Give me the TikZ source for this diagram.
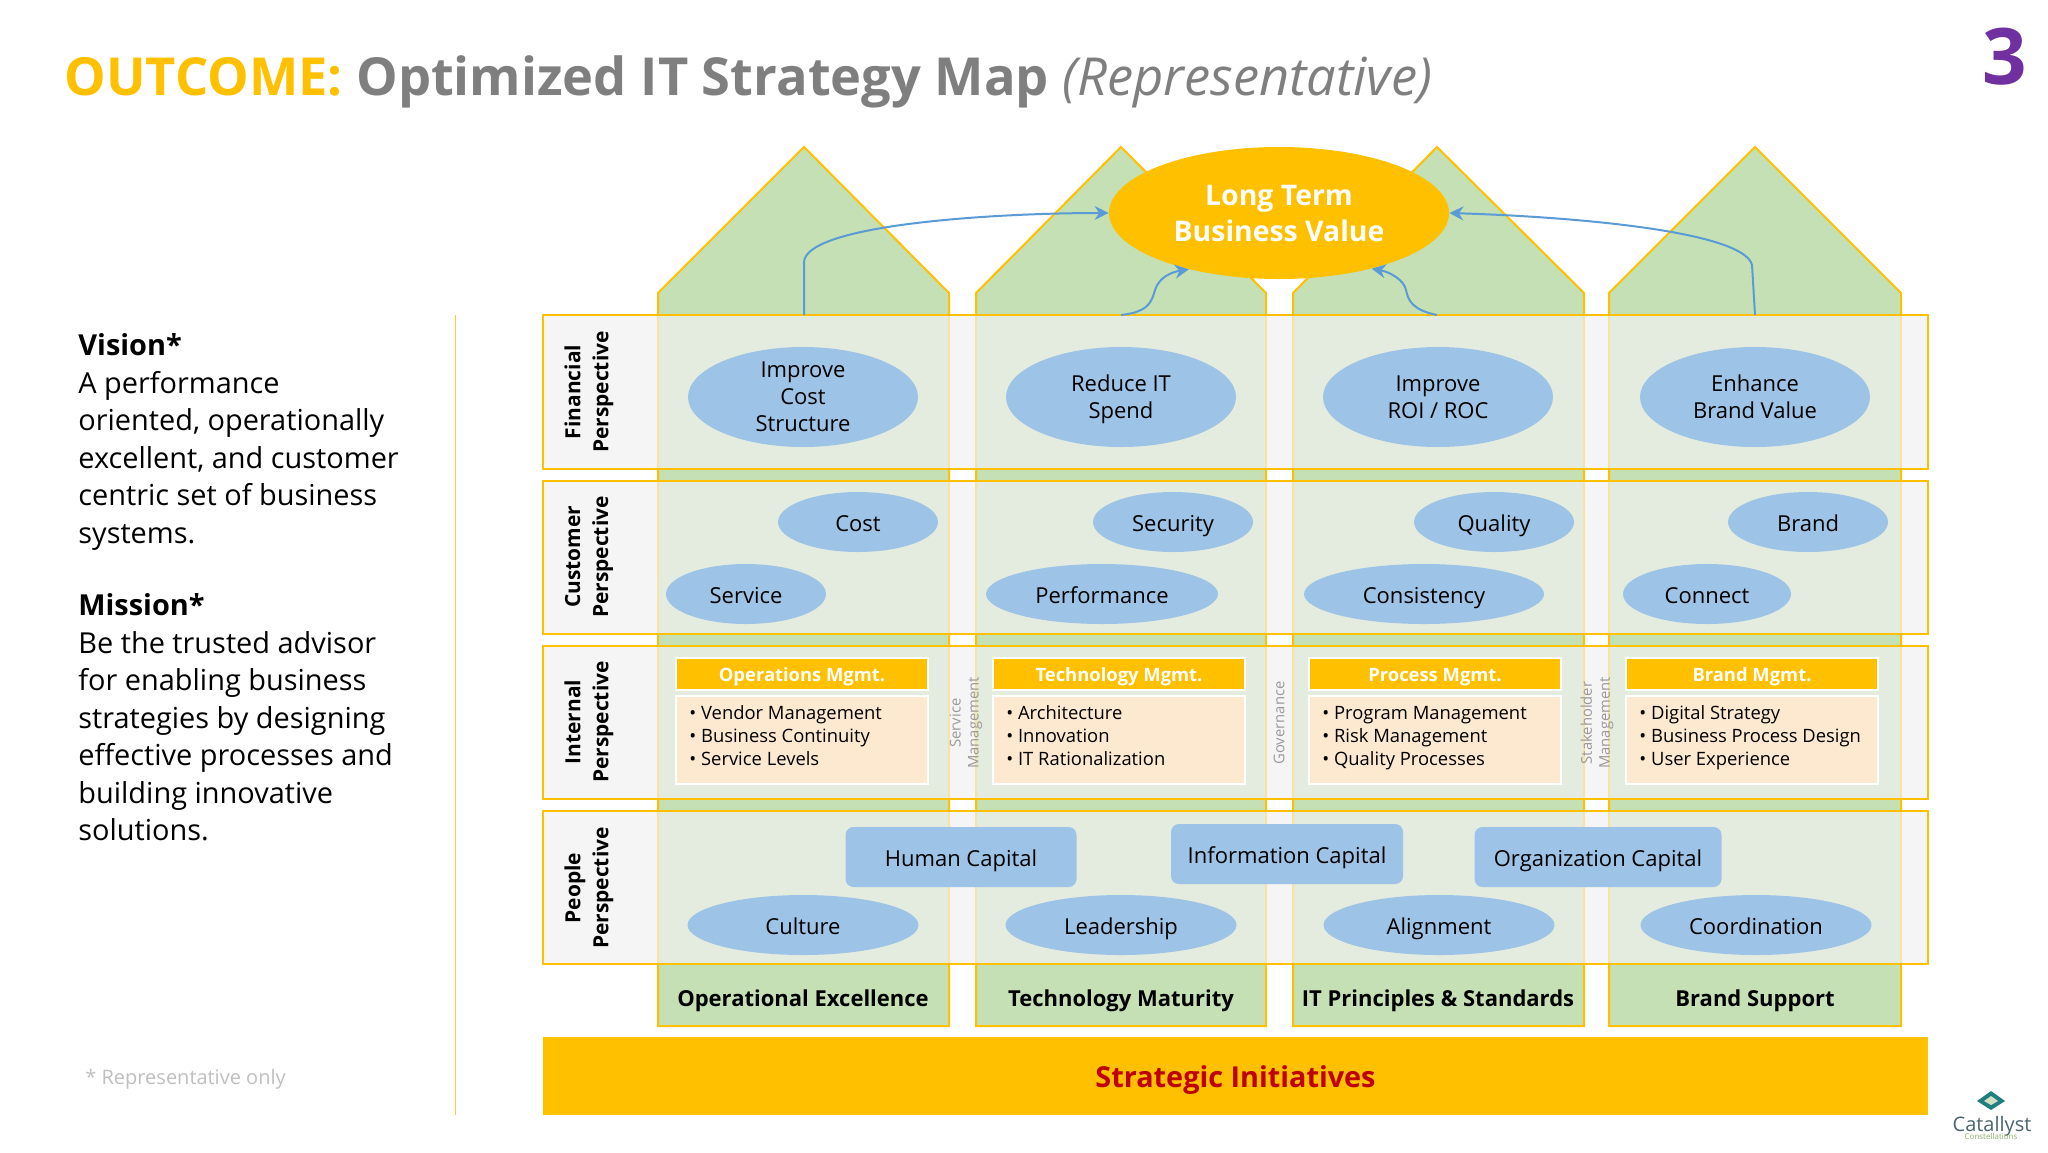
\documentclass[tikz,border=0pt]{standalone}
\usepackage{fontspec}
\setmainfont{Open Sans}
\usetikzlibrary{shapes.geometric,arrows.meta}
\definecolor{gold}{HTML}{FFC000}
\definecolor{housegreen}{HTML}{C5E0B4}
\definecolor{ovalblue}{HTML}{9DC3E6}
\definecolor{linkblue}{HTML}{5B9BD5}
\definecolor{bandfill}{HTML}{F2F2F2}
\definecolor{cardfill}{HTML}{FDE8D0}
\definecolor{titlegray}{HTML}{7F7F7F}
\definecolor{softgray}{HTML}{999999}
\definecolor{notegray}{HTML}{BFBFBF}
\definecolor{initred}{HTML}{C00000}
\definecolor{numpurple}{HTML}{7030A0}
\definecolor{logoteal}{HTML}{1F7F80}
\definecolor{logogreen}{HTML}{8FAF6A}
\definecolor{logotext}{HTML}{4A6570}
\tikzset{
  x=0.5pt,y=-0.5pt,
  house/.style={draw=gold,line width=1pt,fill=housegreen},
  band/.style={draw=gold,line width=1pt,fill=bandfill,fill opacity=.7},
  oval/.style={ellipse,fill=ovalblue,inner sep=0pt,text=black,align=center,minimum height=#1},
  oval/.default=60pt,
  ovaltext/.style={font=\fontsize{11}{13.5}\selectfont},
  oneline/.style={font=\fontsize{11}{13.5}\selectfont,text height=10.2pt,text depth=1pt},
  capbox/.style={rectangle,rounded corners=4pt,fill=ovalblue,inner sep=0pt,oneline},
  persp/.style={rotate=90,align=center,font=\fontsize{10.45}{14}\selectfont\bfseries,inner sep=0pt},
  grayside/.style={rotate=90,align=center,text=softgray,font=\fontsize{7.4}{9}\selectfont,inner sep=0pt},
  pillar/.style={font=\fontsize{11}{13}\selectfont\bfseries,inner sep=0pt,text height=8.85pt,text depth=1pt},
  cardhead/.style={rectangle,fill=gold,draw=white,line width=.8pt,inner sep=0pt,text=white,font=\fontsize{9.2}{11}\selectfont\bfseries,text height=8.7pt,text depth=1pt},
  cardbody/.style={rectangle,fill=cardfill,draw=white,line width=.8pt,inner sep=0pt},
  cardtext/.style={anchor=west,align=left,inner sep=0pt,font=\fontsize{9.2}{11.5}\selectfont},
  link/.style={draw=linkblue,line width=1pt,-{Stealth[length=7pt,width=7pt]}},
  sidetext/.style={anchor=north west,align=left,inner sep=0pt,font=\fontsize{14.45}{18.75}\selectfont},
}
\newcommand{\mycard}[6]{%
  \node[cardhead,minimum width=126pt,minimum height=16pt] (#1h) at (#2+126,674) {#3};
  \node[cardbody,minimum width=126pt,minimum height=44pt] (#1b) at (#2+126,740) {};
  \node[cardtext] (#1t) at (#2+13,738) {\strut• #4\\\strut• #5\\\strut• #6};
}
\begin{document}
\begin{tikzpicture}
\useasboundingbox (0,0) rectangle (2048,1152);
\fill[white] (0,0) rectangle (2048,1152);
% pillars
\foreach \l/\m/\r in {658/804/949,976/1121/1266,1293/1437/1584,1609/1755/1901}{
  \draw[house] (\l,1026) -- (\l,293) -- (\m,147) -- (\r,293) -- (\r,1026) -- cycle;
}
% bands
\draw[band] (543,315) rectangle (1928,469);
\draw[band] (543,481) rectangle (1928,634);
\draw[band] (543,646) rectangle (1928,799);
\draw[band] (543,811) rectangle (1928,964);
% divider
\draw[gold!80,line width=.5pt] (455,315) -- (455,1115);
% title
\node[anchor=base west,inner sep=0pt,font=\fontsize{26.2}{30}\selectfont] (title) at (64,95)
  {\textcolor{gold}{\bfseries OUTCOME:} \textcolor{titlegray}{\bfseries Optimized IT Strategy Map} \textcolor{titlegray}{\itshape (Representative)}};
\node[anchor=center,inner sep=0pt,text=numpurple,font=\fontsize{39}{42}\selectfont\bfseries] (num) at (2005,57) {3};
% left text
\node[sidetext] (vision) at (78,333.5) {\textbf{Vision*}\\A performance\\oriented, operationally\\excellent, and customer\\centric set of business\\systems.};
\node[sidetext] (mission) at (78,593.5) {\textbf{Mission*}\\Be the trusted advisor\\for enabling business\\strategies by designing\\effective processes and\\building innovative\\solutions.};
\node[anchor=west,inner sep=0pt,text=notegray,font=\fontsize{10}{12}\selectfont] (note) at (85,1079) {* Representative only};
% perspective labels
\node[persp] (pf) at (589,392) {Financial\\Perspective};
\node[persp] (pc) at (589,557) {Customer\\Perspective};
\node[persp] (pi) at (589,722) {Internal\\Perspective};
\node[persp] (pp) at (589,888) {People\\Perspective};
% goal
\node[ellipse,fill=gold,inner sep=0pt,minimum width=170pt,minimum height=66pt,text=white,align=center,font=\fontsize{14.2}{18}\selectfont\bfseries] (goal) at (1279,213) {Long Term\\Business Value};
% connectors
\coordinate (b1) at (804,315);
\coordinate (b2) at (1121,315);
\coordinate (b3) at (1437,315);
\coordinate (b4) at (1755,315);
\draw[link] (b1) -- (804,262) .. controls (806,225) and (990,213) .. (goal.west);
\draw[link] (b4) -- (1752,265) .. controls (1744,232) and (1580,217) .. (goal.east);
\draw[link] (b2) .. controls (1150,312) and (1152,300) .. (1155,290) .. controls (1159,277) and (1172,272) .. (goal.-148);
\draw[link] (b3) .. controls (1412,310) and (1408,300) .. (1406,290) .. controls (1404,280) and (1390,272) .. (goal.-31);
% financial
\node[oval=50pt,ovaltext,minimum width=115pt] (f1) at (803,397) {Improve\\Cost\\Structure};
\node[oval=50pt,ovaltext,minimum width=115pt] (f2) at (1121,397) {Reduce IT\\\raisebox{0pt}[\height][0pt]{Spend}};
\node[oval=50pt,ovaltext,minimum width=115pt] (f3) at (1438,397) {Improve\\ROI / ROC};
\node[oval=50pt,ovaltext,minimum width=115pt] (f4) at (1755,397) {Enhance\\Brand Value};
% customer
\node[oval=30pt,oneline,minimum width=80pt] (c1) at (858,522) {Cost};
\node[oval=30pt,oneline,minimum width=80pt] (c2) at (746,594) {Service};
\node[oval=30pt,oneline,minimum width=80pt] (c3) at (1173,522) {Security};
\node[oval=30pt,oneline,minimum width=116pt] (c4) at (1102,594) {Performance};
\node[oval=30pt,oneline,minimum width=80pt] (c5) at (1494,522) {Quality};
\node[oval=30pt,oneline,minimum width=120pt] (c6) at (1424,594) {Consistency};
\node[oval=30pt,oneline,minimum width=80pt] (c7) at (1808,522) {Brand};
\node[oval=30pt,oneline,minimum width=84pt] (c8) at (1707,594) {Connect};
% internal
\mycard{m1}{676}{Operations Mgmt.}{Vendor Management}{Business Continuity}{Service Levels}
\mycard{m2}{993}{Technology Mgmt.}{Architecture}{Innovation}{IT Rationalization}
\mycard{m3}{1309}{Process Mgmt.}{Program Management}{Risk Management}{Quality Processes}
\mycard{m4}{1626}{Brand Mgmt.}{Digital Strategy}{Business Process Design}{User Experience}
\node[grayside] (g1) at (966,723) {Service\\Management};
\node[grayside] (g2) at (1279,723) {Governance};
\node[grayside] (g3) at (1597,723) {Stakeholder\\Management};
% people
\node[capbox,minimum width=115.5pt,minimum height=30pt] (r1) at (961,857) {Human Capital};
\node[capbox,minimum width=116pt,minimum height=30pt] (r2) at (1287,854) {Information Capital};
\node[capbox,minimum width=123.5pt,minimum height=30pt] (r3) at (1598,857) {Organization Capital};
\node[oval=30pt,oneline,minimum width=115.5pt] (p1) at (803,925) {Culture};
\node[oval=30pt,oneline,minimum width=115.5pt] (p2) at (1121,925) {Leadership};
\node[oval=30pt,oneline,minimum width=115.5pt] (p3) at (1439,925) {Alignment};
\node[oval=30pt,oneline,minimum width=115.5pt] (p4) at (1756,925) {Coordination};
% pillar names
\node[pillar] (n1) at (803,999) {Operational Excellence};
\node[pillar] (n2) at (1121,999) {Technology Maturity};
\node[pillar] (n3) at (1438,999) {IT Principles \& Standards};
\node[pillar] (n4) at (1755,999) {Brand Support};
% initiatives
\node[rectangle,fill=gold,minimum width=692.5pt,minimum height=39pt,inner sep=0pt,text=initred,font=\fontsize{14.4}{18}\selectfont\bfseries,text height=12.6pt,text depth=1pt] (init) at (1235.5,1076) {Strategic Initiatives};
% logo
\fill[logoteal] (1991,1091) -- (2005,1101) -- (1991,1110) -- (1977,1101) -- cycle;
\fill[logogreen!40!white] (1991,1096) -- (1998,1101) -- (1991,1105) -- (1984,1101) -- cycle;
\node[inner sep=0pt,text=logotext,font=\fontsize{10}{11}\selectfont,text height=8pt,text depth=1pt] (logo1) at (1992,1124) {Catallyst};
\node[inner sep=0pt,text=logogreen,font=\fontsize{4}{5}\selectfont] (logo2) at (1991,1136) {Constellations};
\end{tikzpicture}
\end{document}
